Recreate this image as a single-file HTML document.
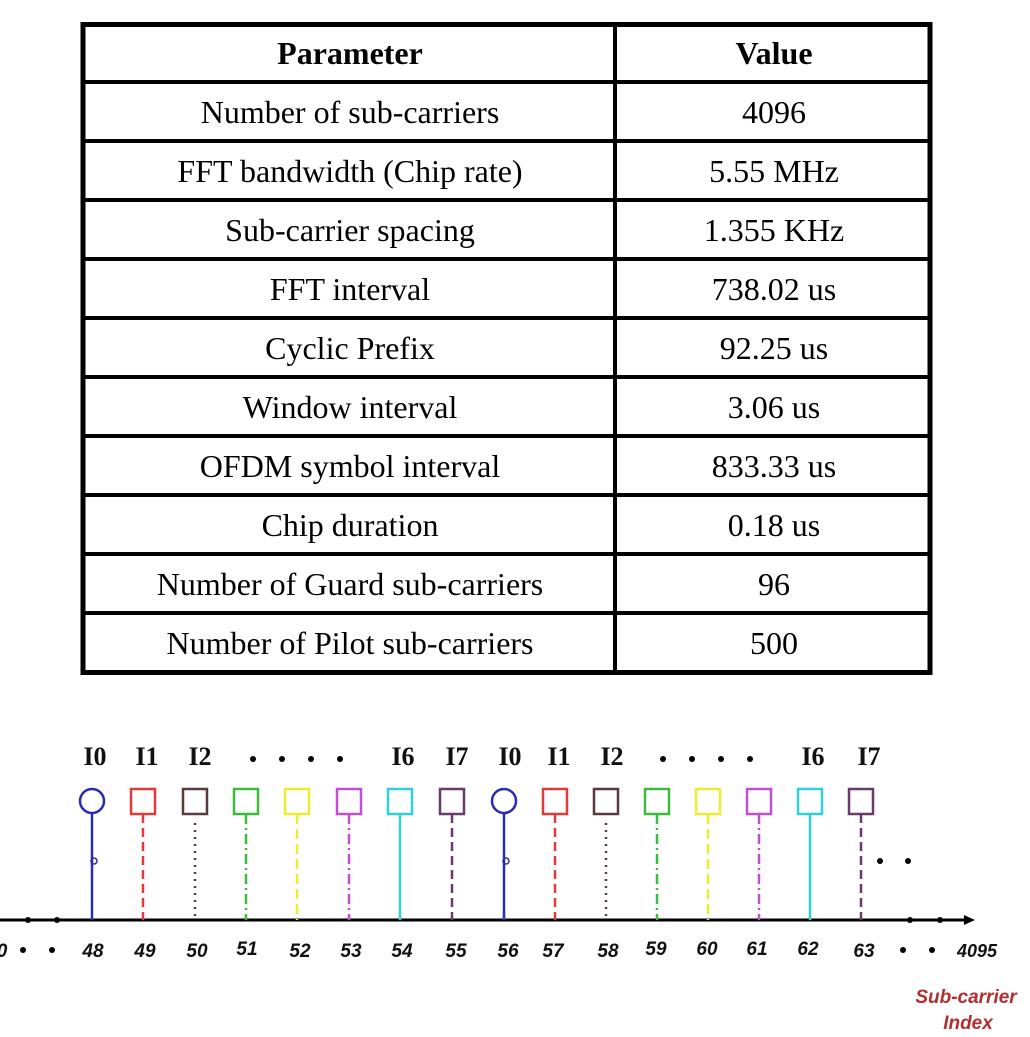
<!DOCTYPE html>
<html><head><meta charset="utf-8"><style>
html,body{margin:0;padding:0;background:#fff;width:1030px;height:1037px;overflow:hidden}
svg{display:block}
.t{font-family:"Liberation Serif",serif;font-size:32px;fill:#000;text-anchor:middle}
.h{font-weight:bold}
.n{font-family:"Liberation Sans",sans-serif;font-style:italic;font-weight:bold;font-size:19px;fill:#111;text-anchor:middle}
.l{font-family:"Liberation Serif",serif;font-weight:bold;font-size:26px;fill:#111;text-anchor:middle}
</style></head><body>
<svg width="1030" height="1037" viewBox="0 0 1030 1037" xmlns="http://www.w3.org/2000/svg">
<g stroke="#000" fill="none">
<rect x="83" y="24.5" width="847" height="648" stroke-width="5"/>
<line x1="615" y1="22" x2="615" y2="675" stroke-width="4"/>
<g stroke-width="4">
<line x1="82" y1="82" x2="932" y2="82"/>
<line x1="82" y1="141" x2="932" y2="141"/>
<line x1="82" y1="200" x2="932" y2="200"/>
<line x1="82" y1="259" x2="932" y2="259"/>
<line x1="82" y1="318" x2="932" y2="318"/>
<line x1="82" y1="377" x2="932" y2="377"/>
<line x1="82" y1="436" x2="932" y2="436"/>
<line x1="82" y1="495" x2="932" y2="495"/>
<line x1="82" y1="554" x2="932" y2="554"/>
<line x1="82" y1="613" x2="932" y2="613"/>
</g></g>
<g class="t">
<text x="350" y="64" class="t h">Parameter</text><text x="774" y="64" class="t h">Value</text>
<text x="350" y="123">Number of sub-carriers</text><text x="774" y="123">4096</text>
<text x="350" y="182">FFT bandwidth (Chip rate)</text><text x="774" y="182">5.55 MHz</text>
<text x="350" y="241">Sub-carrier spacing</text><text x="774" y="241">1.355 KHz</text>
<text x="350" y="300">FFT interval</text><text x="774" y="300">738.02 us</text>
<text x="350" y="359">Cyclic Prefix</text><text x="774" y="359">92.25 us</text>
<text x="350" y="418">Window interval</text><text x="774" y="418">3.06 us</text>
<text x="350" y="477">OFDM symbol interval</text><text x="774" y="477">833.33 us</text>
<text x="350" y="536">Chip duration</text><text x="774" y="536">0.18 us</text>
<text x="350" y="595">Number of Guard sub-carriers</text><text x="774" y="595">96</text>
<text x="350" y="654">Number of Pilot sub-carriers</text><text x="774" y="654">500</text>
</g>
<line x1="0" y1="920" x2="968" y2="920" stroke="#000" stroke-width="3"/>
<polygon points="975,920 964,915 964,925" fill="#000"/>
<g fill="#000"><circle cx="28" cy="920" r="3"/><circle cx="57" cy="920" r="3"/>
<circle cx="910" cy="920" r="3"/><circle cx="940" cy="920" r="3"/>
<circle cx="880" cy="861" r="3"/><circle cx="908" cy="861" r="3"/></g>
<g stroke-width="2.5" fill="none">
<line x1="92" y1="813" x2="92" y2="920" stroke="#2b2bb0"/><circle cx="92" cy="801" r="12" stroke="#2b2bb0"/><circle cx="94" cy="861" r="3" stroke="#2b2bb0" stroke-width="1.5"/>
<line x1="504" y1="813" x2="504" y2="920" stroke="#2b2bb0"/><circle cx="504" cy="801" r="12" stroke="#2b2bb0"/><circle cx="506" cy="861" r="3" stroke="#2b2bb0" stroke-width="1.5"/>
<g stroke="#e03a3a"><rect x="131" y="789" width="24" height="25"/><line x1="143" y1="814" x2="143" y2="920" stroke-dasharray="9,5"/>
<rect x="543" y="789" width="24" height="25"/><line x1="555" y1="814" x2="555" y2="920" stroke-dasharray="9,5"/></g>
<g stroke="#5a3a3a"><rect x="183" y="789" width="24" height="25"/><line x1="195" y1="823" x2="195" y2="917" stroke-dasharray="2,5"/>
<rect x="594" y="789" width="24" height="25"/><line x1="606" y1="823" x2="606" y2="917" stroke-dasharray="2,5"/></g>
<g stroke="#3dbb3d"><rect x="234" y="789" width="24" height="25"/><line x1="246" y1="814" x2="246" y2="920" stroke-dasharray="10,4,2,4"/>
<rect x="645" y="789" width="24" height="25"/><line x1="657" y1="814" x2="657" y2="920" stroke-dasharray="10,4,2,4"/></g>
<g stroke="#eded30"><rect x="285" y="789" width="24" height="25"/><line x1="297" y1="814" x2="297" y2="920" stroke-dasharray="10,5"/>
<rect x="696" y="789" width="24" height="25"/><line x1="708" y1="814" x2="708" y2="920" stroke-dasharray="10,5"/></g>
<g stroke="#c050d0"><rect x="337" y="789" width="24" height="25"/><line x1="349" y1="814" x2="349" y2="920" stroke-dasharray="10,4,2,4"/>
<rect x="747" y="789" width="24" height="25"/><line x1="759" y1="814" x2="759" y2="920" stroke-dasharray="10,4,2,4"/></g>
<g stroke="#30d0d8"><rect x="388" y="789" width="24" height="25"/><line x1="400" y1="814" x2="400" y2="920"/>
<rect x="798" y="789" width="24" height="25"/><line x1="810" y1="814" x2="810" y2="920"/></g>
<g stroke="#6a3a6a"><rect x="440" y="789" width="24" height="25"/><line x1="452" y1="814" x2="452" y2="920" stroke-dasharray="9,5"/>
<rect x="849" y="789" width="24" height="25"/><line x1="861" y1="814" x2="861" y2="920" stroke-dasharray="9,5"/></g>
</g>
<g class="l">
<text x="95" y="765">I0</text><text x="147" y="765">I1</text><text x="200" y="765">I2</text>
<text x="403" y="765">I6</text><text x="457" y="765">I7</text>
<text x="510" y="765">I0</text><text x="559" y="765">I1</text><text x="612" y="765">I2</text>
<text x="813" y="765">I6</text><text x="869" y="765">I7</text>
</g>
<g fill="#000"><circle cx="253" cy="759" r="3"/><circle cx="282" cy="759" r="3"/><circle cx="311" cy="759" r="3"/><circle cx="340" cy="759" r="3"/>
<circle cx="663" cy="759" r="3"/><circle cx="692" cy="759" r="3"/><circle cx="721" cy="759" r="3"/><circle cx="750" cy="759" r="3"/>
<circle cx="23" cy="950" r="3"/><circle cx="52" cy="950" r="3"/><circle cx="903" cy="950" r="3"/><circle cx="932" cy="950" r="3"/></g>
<g class="n">
<text x="2" y="957">0</text>
<text x="93" y="957">48</text><text x="145" y="957">49</text><text x="197" y="957">50</text><text x="247" y="955">51</text>
<text x="300" y="957">52</text><text x="351" y="957">53</text><text x="402" y="957">54</text><text x="456" y="957">55</text>
<text x="508" y="957">56</text><text x="553" y="957">57</text><text x="608" y="957">58</text><text x="656" y="955">59</text>
<text x="707" y="955">60</text><text x="757" y="955">61</text><text x="808" y="955">62</text><text x="864" y="957">63</text>
<text x="977" y="957" style="font-size:18px">4095</text>
</g>
<g class="n" style="fill:#b03030;font-size:19px">
<text x="966" y="1003">Sub-carrier</text><text x="968" y="1029">Index</text></g>
</svg>
</body></html>
